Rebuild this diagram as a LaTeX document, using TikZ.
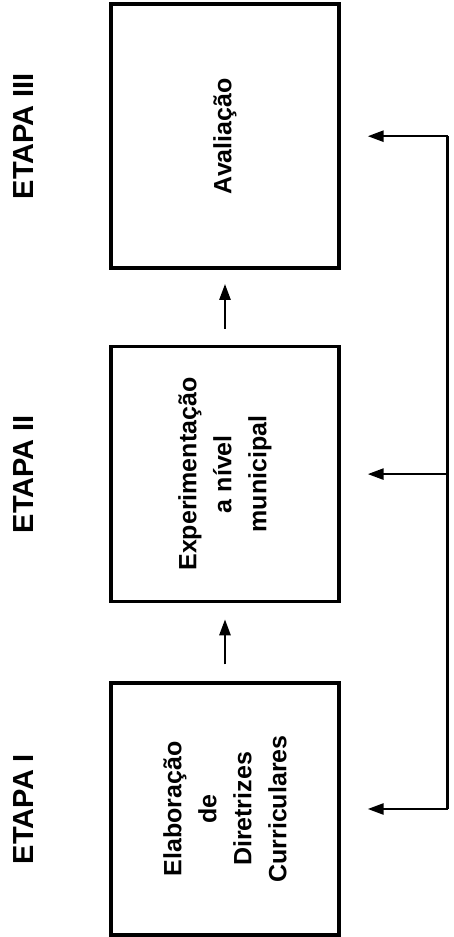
\documentclass[tikz,border=0pt]{standalone}
\usepackage{fontspec}
\setmainfont{Liberation Sans}
\usetikzlibrary{arrows.meta,positioning,calc}

\begin{document}
\begin{tikzpicture}[
    x=1pt, y=1pt, rotate=90, transform shape,
    etapa/.style={inner sep=0pt, font=\fontsize{29}{34}\selectfont\bfseries},
    box/.style={draw, line width=3.4pt, align=center, minimum height=228pt,
      font=\fontsize{25}{35}\selectfont\bfseries},
    arrow/.style={line width=2.6pt, -{Triangle[length=16pt,width=11pt]}},
  ]
  \useasboundingbox (0,0) rectangle (937,454);
  % the three stages, drawn left to right and turned upright
  \node[box, minimum width=252pt] (elab) at (128,229) {Elaboração\\de\\Diretrizes\\Curriculares};
  \node[box, minimum width=255pt, right=78pt of elab] (exper) {Experimentação\\a nível\\municipal};
  \node[box, minimum width=264pt, right=75pt of exper] (aval) {Avaliação};
  \node[etapa, above=76pt of elab] (etapa1) {ETAPA I};
  \node[etapa, above=76pt of exper] (etapa2) {ETAPA II};
  \node[etapa, above=76pt of aval] (etapa3) {ETAPA III};
  \draw[arrow, shorten <=17pt, shorten >=16pt] (elab) -- (exper);
  \draw[arrow, shorten <=16pt, shorten >=14pt] (exper) -- (aval);
  % feedback line
  \coordinate (fb1) at ($(elab.south)+(0,-107)$);
  \coordinate (fb2) at ($(exper.south)+(0,-107)$);
  \coordinate (fb3) at ($(aval.south)+(0,-107)$);
  \draw[line width=2.6pt] (fb1) -- (fb3);
  \draw[arrow, shorten >=27pt] (fb1) -- (elab.south);
  \draw[arrow, shorten >=27pt] (fb2) -- (exper.south);
  \draw[arrow, shorten >=27pt] (fb3) -- (aval.south);
\end{tikzpicture}
\end{document}
